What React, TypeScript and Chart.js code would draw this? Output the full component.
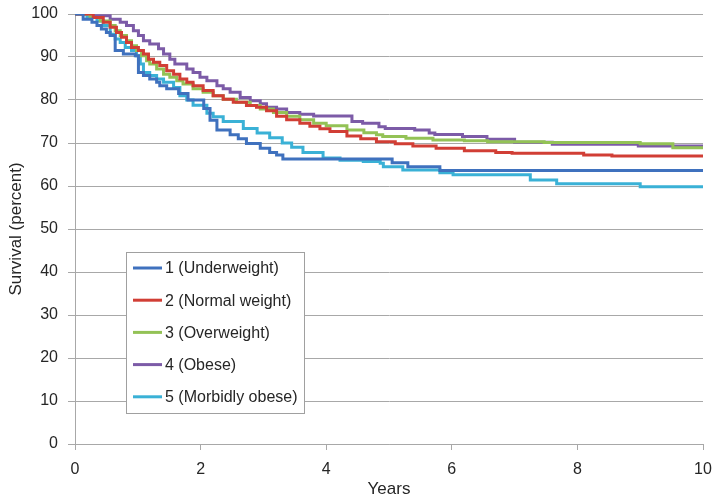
import React, { useEffect, useRef } from "react";
import { Chart, registerables } from "chart.js";

Chart.register(...registerables);

const seriesLabels = [
  "1 (Underweight)",
  "2 (Normal weight)",
  "3 (Overweight)",
  "4 (Obese)",
  "5 (Morbidly obese)",
];
const seriesColors = ["#3F71BE", "#D13E35", "#93C256", "#7C5BA7", "#3AB1D6"];

const xTicks = [0, 2, 4, 6, 8, 10];
const yTicks = [0, 10, 20, 30, 40, 50, 60, 70, 80, 90, 100];

// 1 (Underweight)
const underweightYears = [0, 0.13, 0.27, 0.35, 0.42, 0.5, 0.56, 0.64, 0.77, 0.96, 1.01, 1.09, 1.19, 1.3, 1.35, 1.46, 1.65, 1.8, 2.05, 2.15, 2.26, 2.47, 2.6, 2.73, 2.95, 3.1, 3.21, 3.31, 5.05, 5.3, 5.81, 10];
const underweightSurv = [100, 98.8, 98.1, 97.3, 96.5, 95.7, 95.0, 91.5, 90.7, 90.3, 86.4, 85.7, 84.9, 84.1, 83.3, 82.6, 81.5, 80.0, 78.0, 75.3, 73.0, 71.9, 71.0, 69.9, 68.8, 67.8, 67.2, 66.3, 65.4, 64.5, 63.6, 63.6];

// 2 (Normal weight)
const normalYears = [0, 0.29, 0.45, 0.56, 0.66, 0.74, 0.82, 0.9, 1.01, 1.09, 1.17, 1.25, 1.35, 1.46, 1.57, 1.67, 1.78, 1.88, 2.04, 2.2, 2.36, 2.52, 2.73, 2.89, 3.05, 3.21, 3.37, 3.58, 3.74, 3.9, 4.06, 4.33, 4.55, 4.8, 5.1, 5.38, 5.75, 6.2, 6.7, 6.96, 8.1, 8.55, 10];
const normalSurv = [100, 99.2, 98.1, 96.9, 95.7, 94.6, 93.4, 92.2, 91.5, 90.7, 89.5, 88.8, 88.0, 86.8, 86.0, 84.9, 84.1, 83.3, 82.2, 81.0, 80.2, 79.5, 78.7, 78.3, 77.5, 76.2, 75.4, 74.6, 73.9, 73.3, 72.7, 71.6, 71.0, 70.3, 69.8, 69.3, 68.8, 68.2, 67.8, 67.6, 67.2, 67.0, 67.0];

// 3 (Overweight)
const overweightYears = [0, 0.24, 0.4, 0.56, 0.64, 0.72, 0.82, 0.9, 0.98, 1.06, 1.14, 1.19, 1.3, 1.41, 1.51, 1.62, 1.72, 1.88, 2.04, 2.2, 2.36, 2.57, 2.79, 2.95, 3.16, 3.37, 3.58, 3.8, 4.0, 4.33, 4.6, 4.8, 4.9, 5.27, 5.7, 6.2, 6.57, 7.47, 9.0, 9.52, 10];
const overweightSurv = [100, 99.2, 98.4, 97.3, 96.1, 95.0, 93.8, 92.6, 91.5, 90.3, 89.1, 88.4, 87.2, 86.0, 85.3, 84.5, 83.7, 82.6, 81.8, 81.0, 80.2, 79.5, 78.7, 77.9, 77.1, 76.2, 75.4, 74.6, 74.0, 73.0, 72.4, 71.9, 71.5, 71.1, 70.7, 70.5, 70.3, 70.1, 69.8, 68.9, 68.9];

// 4 (Obese)
const obeseYears = [0, 0.29, 0.56, 0.72, 0.82, 0.93, 1.01, 1.09, 1.19, 1.33, 1.41, 1.51, 1.59, 1.78, 1.88, 1.99, 2.1, 2.26, 2.36, 2.47, 2.63, 2.79, 2.95, 3.05, 3.21, 3.37, 3.58, 3.8, 4.41, 4.58, 4.84, 4.94, 5.41, 5.64, 5.73, 6.17, 6.56, 7.0, 7.6, 8.97, 10];
const obeseSurv = [100, 99.6, 98.8, 98.1, 97.3, 96.1, 95.0, 93.8, 93.0, 91.9, 90.7, 89.5, 88.4, 87.2, 86.4, 85.3, 84.5, 83.3, 82.6, 81.8, 80.6, 79.8, 79.1, 78.3, 77.9, 77.1, 76.7, 76.3, 75.0, 74.6, 73.8, 73.4, 73.0, 72.3, 72.0, 71.5, 70.9, 70.2, 69.7, 69.3, 69.3];

// 5 (Morbidly obese)
const morbidYears = [0, 0.19, 0.35, 0.45, 0.56, 0.64, 0.72, 0.8, 0.9, 0.98, 1.04, 1.09, 1.19, 1.3, 1.41, 1.57, 1.67, 1.78, 1.88, 2.1, 2.2, 2.36, 2.68, 2.9, 3.1, 3.3, 3.45, 3.63, 3.95, 4.22, 4.59, 4.86, 4.91, 5.22, 5.81, 6.02, 7.25, 7.67, 9.0, 10];
const morbidSurv = [100, 99.2, 98.4, 97.3, 95.3, 94.2, 93.4, 92.2, 91.5, 90.3, 88.4, 86.4, 85.7, 84.9, 84.1, 82.9, 81.0, 80.0, 78.8, 76.9, 76.1, 75.0, 73.4, 72.3, 71.2, 70.0, 69.0, 67.8, 66.5, 66.0, 65.7, 65.3, 64.5, 63.7, 63.1, 62.6, 61.4, 60.5, 59.8, 59.8];

const seriesYears = [underweightYears, normalYears, overweightYears, obeseYears, morbidYears];
const seriesSurv = [underweightSurv, normalSurv, overweightSurv, obeseSurv, morbidSurv];

const FONT = "'Liberation Sans', Arial, Helvetica, sans-serif";
const TEXT = "#262626";
const GRID = "#A8A8A8";

const legendPlugin = {
  id: "insideLegend",
  afterDraw(chart: any) {
    const { ctx, chartArea } = chart;
    const left = chartArea.left + 51;
    const top = chartArea.top + 238;
    const w = 178;
    const h = 161;
    ctx.save();
    ctx.fillStyle = "#FFFFFF";
    ctx.fillRect(left, top, w, h);
    ctx.strokeStyle = "#A0A0A0";
    ctx.lineWidth = 1;
    ctx.strokeRect(left + 0.5, top + 0.5, w, h);
    ctx.font = `16px ${FONT}`;
    ctx.textBaseline = "middle";
    ctx.textAlign = "left";
    chart.data.datasets.forEach((ds: any, i: number) => {
      const y = top + 16 + i * 32.2;
      ctx.strokeStyle = ds.borderColor;
      ctx.lineWidth = 3;
      ctx.beginPath();
      ctx.moveTo(left + 7, y);
      ctx.lineTo(left + 36, y);
      ctx.stroke();
      ctx.fillStyle = TEXT;
      ctx.fillText(ds.label, left + 39, y + 1);
    });
    ctx.restore();
  },
};

export default function App() {
  const ref = useRef<HTMLCanvasElement | null>(null);

  useEffect(() => {
    if (!ref.current) return;
    const datasets = seriesLabels.map((label, i) => ({
      label,
      data: seriesYears[i].map((t, j) => ({ x: t, y: seriesSurv[i][j] })),
      borderColor: seriesColors[i],
      backgroundColor: seriesColors[i],
      borderWidth: 3,
      pointRadius: 0,
      stepped: true,
      fill: false,
    }));
    const chart = new Chart(ref.current, {
      type: "line",
      data: { datasets },
      plugins: [legendPlugin],
      options: {
        animation: false,
        responsive: true,
        maintainAspectRatio: false,
        layout: { padding: { top: 14, right: 18, left: 0, bottom: 0 } },
        plugins: { legend: { display: false }, tooltip: { enabled: false } },
        scales: {
          x: {
            type: "linear",
            min: 0,
            max: 10,
            afterFit: (s: any) => { s.height = 59; s.paddingLeft = 0; s.paddingRight = 0; },
            afterBuildTicks: (s: any) => { s.ticks = xTicks.map((v) => ({ value: v })); },
            ticks: { color: TEXT, font: { family: FONT, size: 16 }, padding: 10, maxRotation: 0 },
            grid: { display: true, drawOnChartArea: false, drawTicks: true, tickLength: 6, color: GRID },
            border: { display: true, color: GRID },
            title: { display: true, text: "Years", color: TEXT, font: { family: FONT, size: 17 }, padding: { top: 0, bottom: 3 } },
          },
          y: {
            type: "linear",
            min: 0,
            max: 100,
            afterFit: (s: any) => { s.width = 75; s.paddingTop = 0; s.paddingBottom = 0; },
            afterBuildTicks: (s: any) => { s.ticks = yTicks.map((v) => ({ value: v })); },
            ticks: { color: TEXT, font: { family: FONT, size: 16 }, padding: 10 },
            grid: { display: true, drawTicks: true, tickLength: 7, color: GRID, lineWidth: 1 },
            border: { display: true, color: GRID },
            title: { display: true, text: "Survival (percent)", color: TEXT, font: { family: FONT, size: 17 }, padding: { top: 6, bottom: 0 } },
          },
        },
      },
    });
    return () => chart.destroy();
  }, []);

  return (
    <div style={{ position: "fixed", left: 0, top: 0, width: 721, height: 503, background: "#fff" }}>
      <canvas ref={ref} />
    </div>
  );
}
